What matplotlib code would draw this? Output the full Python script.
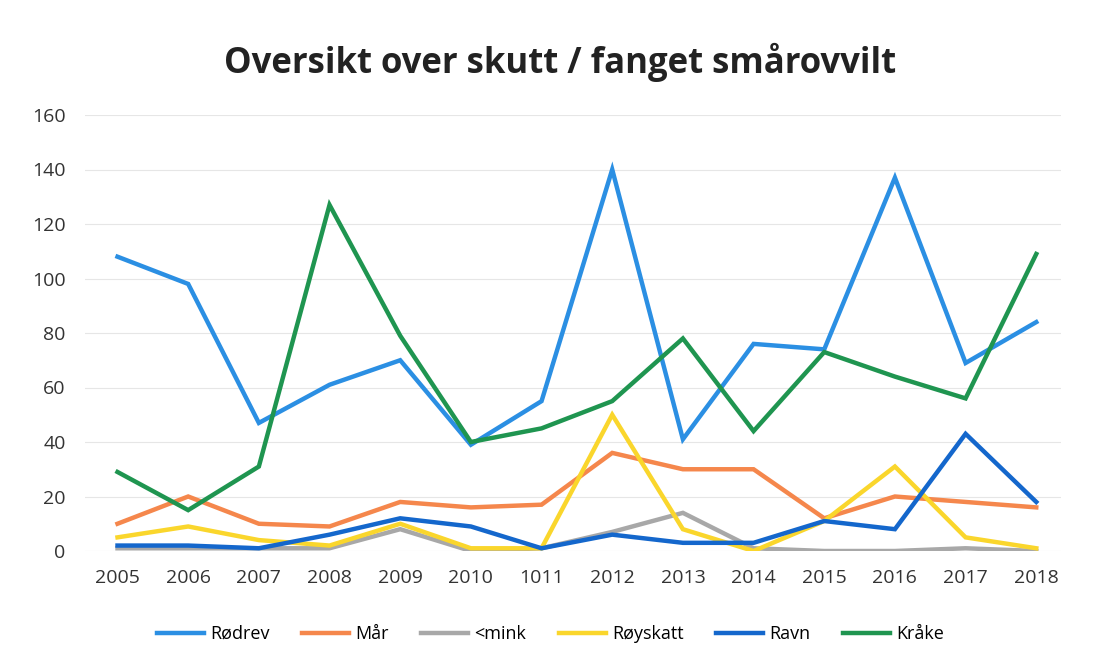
import matplotlib
matplotlib.use("Agg")
import matplotlib.pyplot as plt

years = ["2005", "2006", "2007", "2008", "2009", "2010", "1011", "2012",
         "2013", "2014", "2015", "2016", "2017", "2018"]
rodrev = [108, 98, 47, 61, 70, 39, 55, 140, 41, 76, 74, 137, 69, 84]
mar = [10, 20, 10, 9, 18, 16, 17, 36, 30, 30, 12, 20, 18, 16]
mink = [1, 1, 1, 1, 8, 0, 1, 7, 14, 1, 0, 0, 1, 0]
royskatt = [5, 9, 4, 2, 10, 1, 1, 50, 8, 0, 11, 31, 5, 1]
ravn = [2, 2, 1, 6, 12, 9, 1, 6, 3, 3, 11, 8, 43, 18]
krake = [29, 15, 31, 127, 79, 40, 45, 55, 78, 44, 73, 64, 56, 109]

series = [
    ("Rødrev", rodrev, "#2B8FE3"),
    ("Mår", mar, "#F5874C"),
    ("<mink", mink, "#A8A8A8"),
    ("Røyskatt", royskatt, "#FAD62C"),
    ("Ravn", ravn, "#1467CC"),
    ("Kråke", krake, "#1F9550"),
]

plt.rcParams['font.family'] = ['Open Sans', 'DejaVu Sans']
fig = plt.figure(figsize=(10.93, 6.61), dpi=100)
ax = fig.add_axes([85/1093, 1 - 551/661, (1061-85)/1093, (551-115)/661])

x = list(range(len(years)))
for name, vals, col in series:
    ax.plot(x, vals, color=col, lw=3.2, label=name, solid_joinstyle='miter')

ax.set_xlim(-0.46, len(years) - 1 + 0.35)
ax.set_ylim(0, 160)
ax.set_yticks(range(0, 161, 20))
ax.set_xticks(x)
ax.set_xticklabels(years)
ax.tick_params(axis='both', length=0, labelsize=14, colors='#333333')
ax.tick_params(axis='y', pad=14)
ax.tick_params(axis='x', pad=13)
ax.grid(axis='y', color='#E6E6E6', lw=0.8)
ax.set_axisbelow(True)
for s in ax.spines.values():
    s.set_visible(False)

fig.text(0.512, 1 - 62/661, "Oversikt over skutt / fanget smårovvilt",
         ha='center', va='center', fontsize=25, fontweight='bold', color='#222222')

ax.legend(loc='center', bbox_to_anchor=(0.477, -0.19), ncol=6, frameon=False,
          fontsize=13, handlelength=2.6, columnspacing=1.8, handletextpad=0.35)

fig.savefig("out.png", dpi=100)
